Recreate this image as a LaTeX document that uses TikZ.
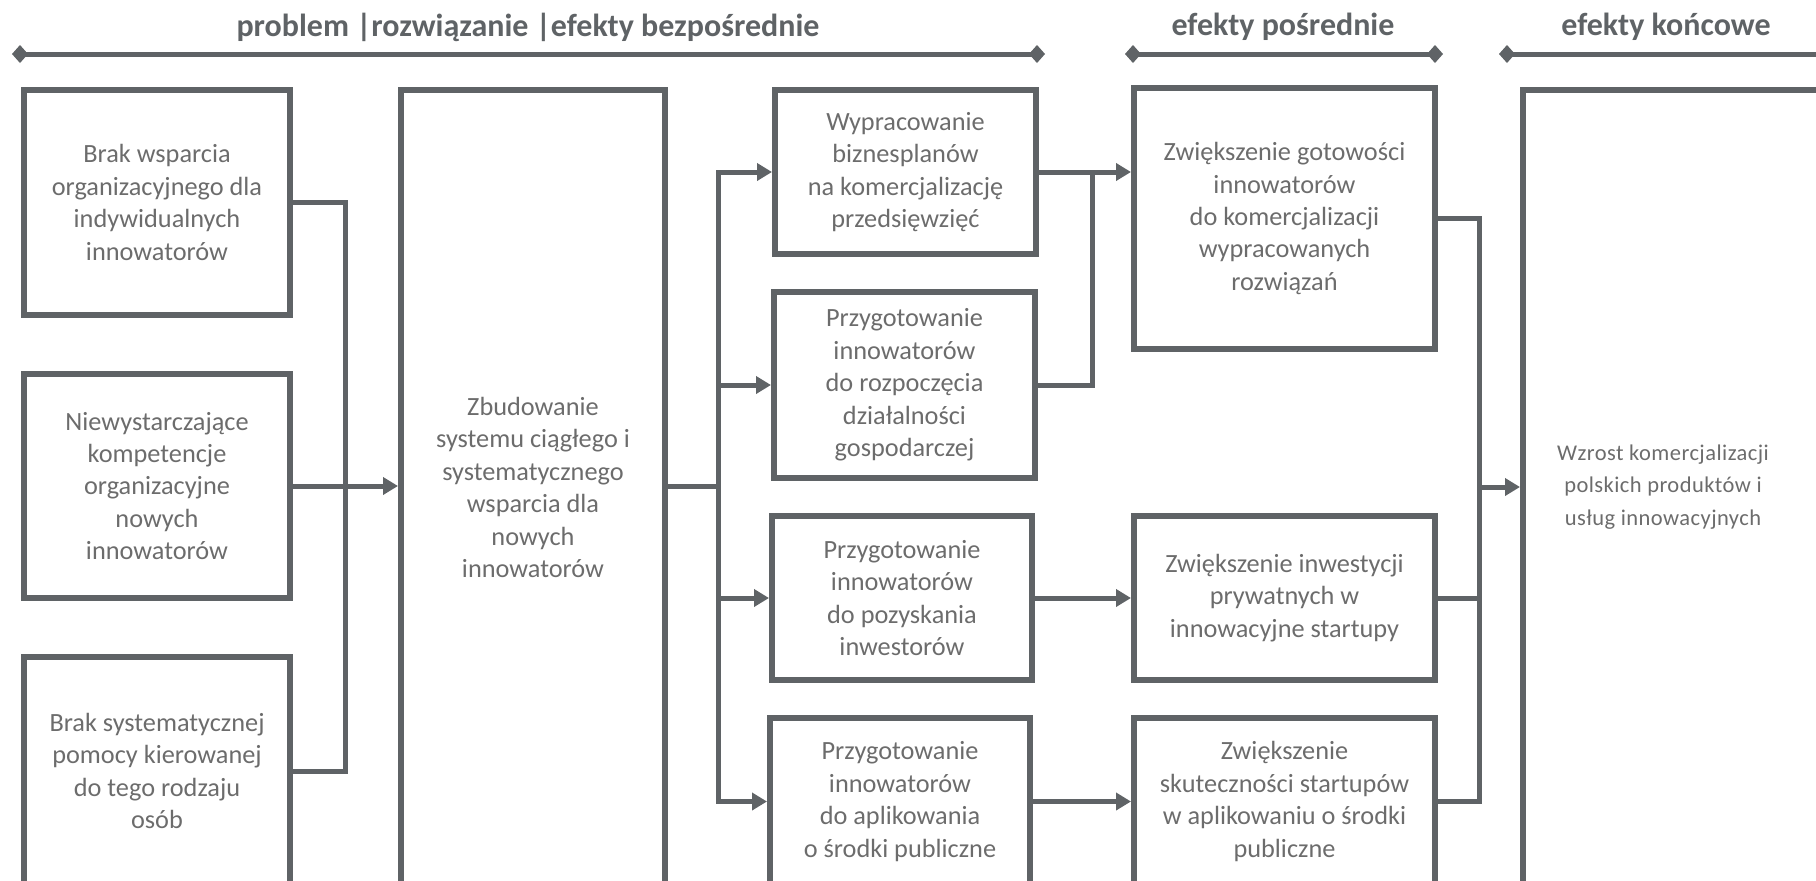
\documentclass[tikz,border=0pt]{standalone}
\usepackage{fontspec}
\setmainfont{Carlito}
\newfontfamily\widefont[LetterSpace=2]{Carlito}
\usetikzlibrary{arrows.meta}
\definecolor{rulegray}{RGB}{95,99,102}
\definecolor{inkgray}{RGB}{108,108,108}
\begin{document}
\begin{tikzpicture}[x=1pt,y=-1pt,
  box/.style={draw=rulegray, line width=6pt, inner sep=0pt, align=center,
    text=inkgray, font=\fontsize{26.3}{32.4}\selectfont},
  bodytext/.style={inner sep=0pt, align=center, text=inkgray,
    font=\fontsize{26.3}{32.4}\selectfont},
  headtext/.style={inner sep=0pt, text=rulegray,
    font=\fontsize{32}{36}\selectfont\bfseries},
  conn/.style={draw=rulegray, line width=5pt, line cap=rect},
  arr/.style={conn, -{Triangle[length=15pt,width=17pt]}},
  headrule/.style={draw=rulegray, line width=5pt,
    {Diamond[length=16pt,width=18pt]}-{Diamond[length=16pt,width=18pt]}}]
\useasboundingbox (0,0) rectangle (1816,881);
\clip (0,0) rectangle (1816,881);

% column headings
\node[headtext] (h1) at (528,27) {problem |rozwiązanie |efekty bezpośrednie};
\node[headtext] (h2) at (1283,27) {efekty pośrednie};
\node[headtext] (h3) at (1666,27) {efekty końcowe};
\coordinate (r1a) at (12,54);  \coordinate (r1b) at (1045,54);
\coordinate (r2a) at (1125,54); \coordinate (r2b) at (1443,54);
\coordinate (r3a) at (1499,54); \coordinate (r3b) at (1840,54);
\draw[headrule] (r1a) -- (r1b);
\draw[headrule] (r2a) -- (r2b);
\draw[headrule] (r3a) -- (r3b);

% problems
\node[box, minimum width=266, minimum height=225] (p1) at (157,202.5)
  {Brak wsparcia\\organizacyjnego dla\\indywidualnych\\innowatorów};
\node[box, minimum width=266, minimum height=224] (p2) at (157,486)
  {Niewystarczające\\kompetencje\\organizacyjne\\nowych\\innowatorów};
\node[box, minimum width=266, minimum height=228] (p3) at (157,771)
  {Brak systematycznej\\pomocy kierowanej\\do tego rodzaju\\osób};

% solution
\node[box, minimum width=264, minimum height=795] (s) at (533,487.5)
  {Zbudowanie\\systemu ciągłego i\\systematycznego\\wsparcia dla\\nowych\\innowatorów};

% direct effects
\node[box, minimum width=261, minimum height=164] (a) at (905.5,172)
  {Wypracowanie\\biznesplanów\\na komercjalizację\\przedsięwzięć};
\node[box, minimum width=261, minimum height=186] (b) at (904.5,385)
  {Przygotowanie\\innowatorów\\do rozpoczęcia\\działalności\\gospodarczej};
\node[box, minimum width=260, minimum height=164] (c) at (902,598)
  {Przygotowanie\\innowatorów\\do pozyskania\\inwestorów};
\node[box, minimum width=260, minimum height=167] (d) at (900,801.5)
  {Przygotowanie\\innowatorów\\do aplikowania\\o środki publiczne};

% intermediate effects
\node[box, minimum width=301, minimum height=261] (e) at (1284.5,218.5)
  {Zwiększenie gotowości\\innowatorów\\do komercjalizacji\\wypracowanych\\rozwiązań};
\node[box, minimum width=301, minimum height=164] (f) at (1284.5,598)
  {Zwiększenie inwestycji\\prywatnych w\\innowacyjne startupy};
\node[box, minimum width=301, minimum height=167] (g) at (1284.5,801.5)
  {Zwiększenie\\skuteczności startupów\\w aplikowaniu o środki\\publiczne};

% final effect
\node[box, minimum width=377, minimum height=795] (h) at (1711.5,487.5) {};
\node[bodytext, font=\fontsize{22.5}{32.4}\widefont] (ht) at (1663,487)
  {Wzrost komercjalizacji\\polskich produktów i\\usług innowacyjnych};

% junction columns
\coordinate (j1) at (345,0);
\coordinate (j2) at (718,0);
\coordinate (j3) at (1092,0);
\coordinate (j4) at (1479,0);

% problems -> solution
\draw[conn] (p1.east) -| (j1 |- p3.east) -- (p3.east);
\draw[arr] (p2.east) -- (s.west |- p2.east);

% solution -> direct effects
\draw[conn] (s.east |- p2.east) -- (j2 |- p2.east);
\draw[conn] (j2 |- a.west) -- (j2 |- d.west);
\draw[arr] (j2 |- a.west) -- (a.west);
\draw[arr] (j2 |- b.west) -- (b.west);
\draw[arr] (j2 |- c.west) -- (c.west);
\draw[arr] (j2 |- d.west) -- (d.west);

% direct -> intermediate effects
\draw[arr] (a.east) -- (e.west |- a.east);
\draw[conn] (b.east) -| (j3 |- a.east);
\draw[arr] (c.east) -- (f.west |- c.east);
\draw[arr] (d.east) -- (g.west |- d.east);

% intermediate -> final effect
\draw[conn] (e.east) -| (j4 |- g.east) -- (g.east);
\draw[conn] (f.east) -- (j4 |- f.east);
\draw[arr] (j4 |- ht) -- (h.west |- ht);
\end{tikzpicture}
\end{document}
